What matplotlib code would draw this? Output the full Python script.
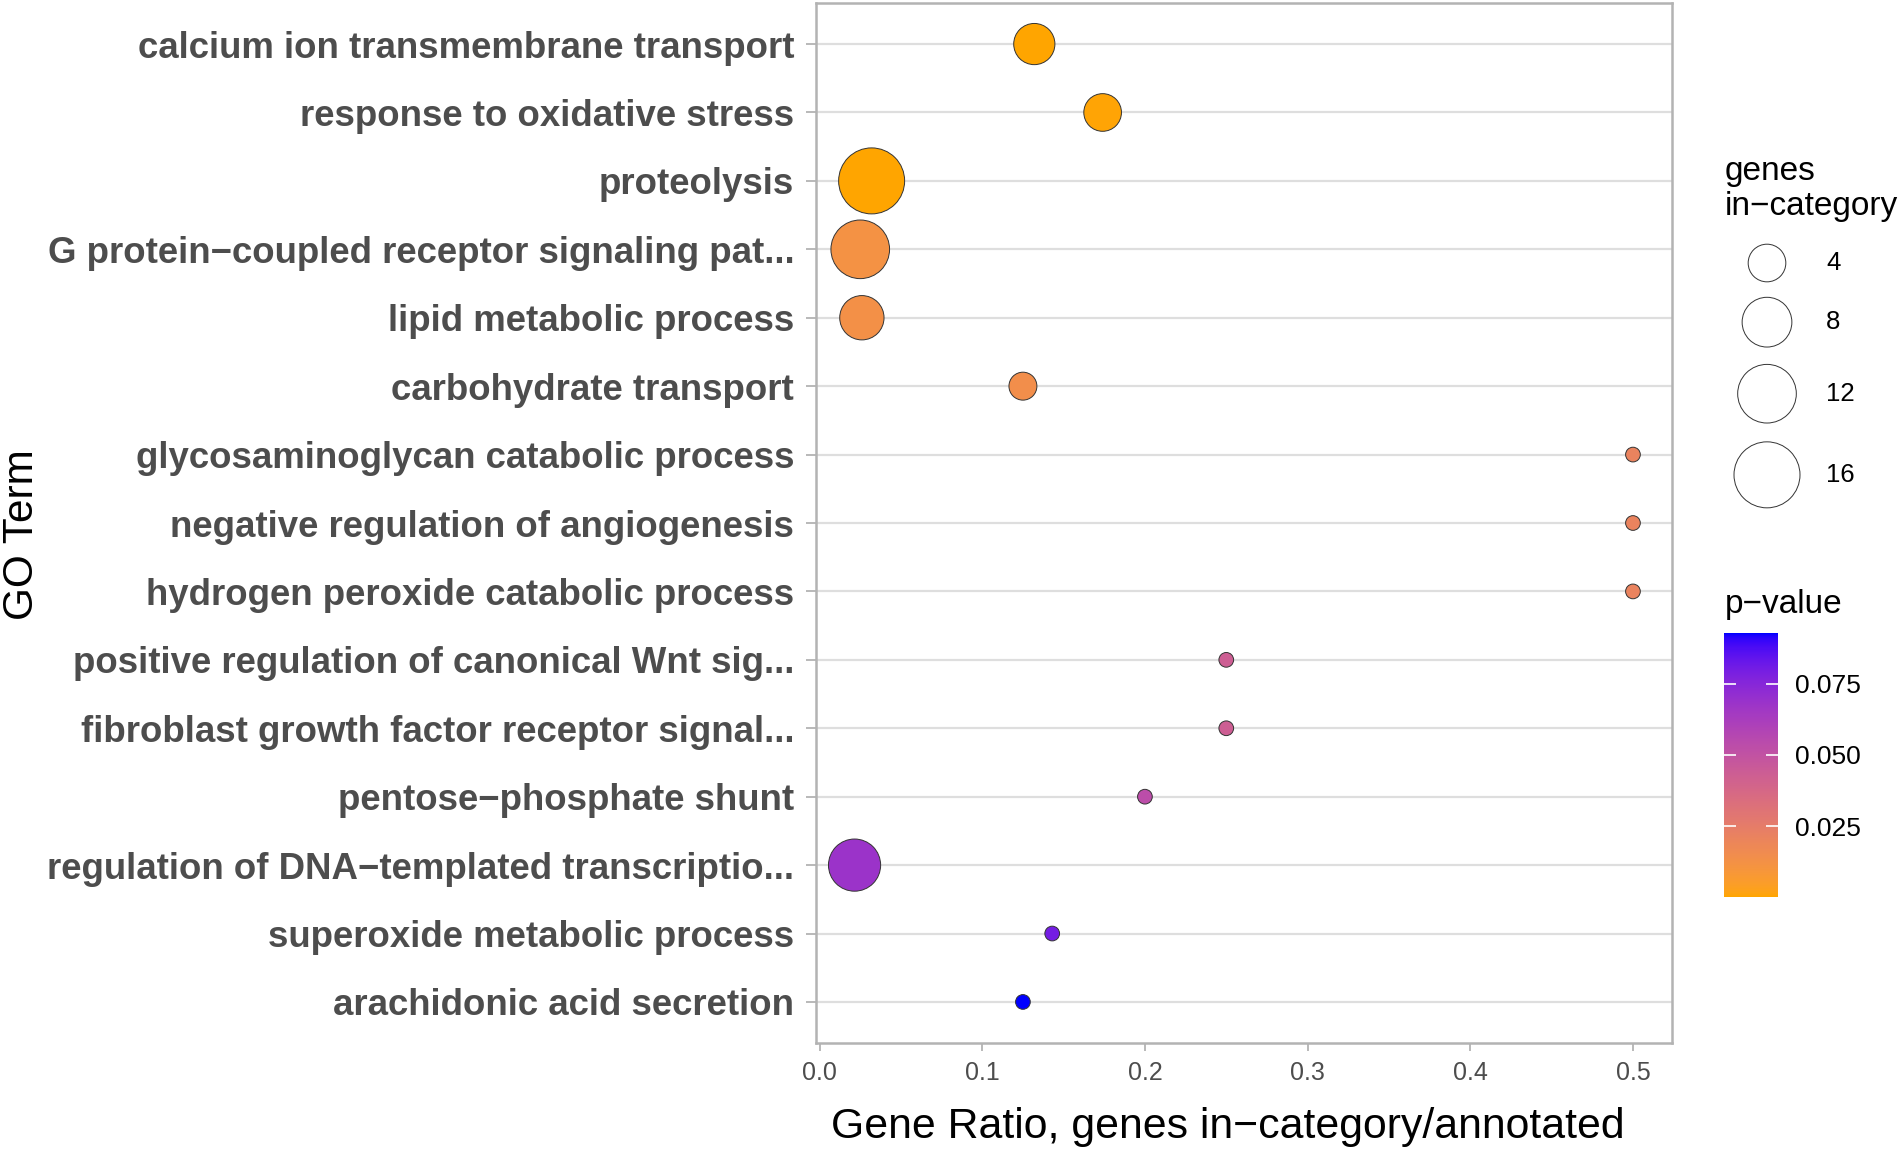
import numpy as np
import matplotlib.pyplot as plt
import matplotlib as mpl
from matplotlib.colors import ListedColormap, Normalize

plt.rcParams['font.family'] = ['Liberation Sans', 'DejaVu Sans']

# GO terms, top to bottom
terms = ["calcium ion transmembrane transport",
         "response to oxidative stress",
         "proteolysis",
         "G protein\u2212coupled receptor signaling pat...",
         "lipid metabolic process",
         "carbohydrate transport",
         "glycosaminoglycan catabolic process",
         "negative regulation of angiogenesis",
         "hydrogen peroxide catabolic process",
         "positive regulation of canonical Wnt sig...",
         "fibroblast growth factor receptor signal...",
         "pentose\u2212phosphate shunt",
         "regulation of DNA\u2212templated transcriptio...",
         "superoxide metabolic process",
         "arachidonic acid secretion"]
gene_ratio = [0.132, 0.174, 0.032, 0.025, 0.026, 0.125, 0.5, 0.5, 0.5,
              0.25, 0.25, 0.2, 0.0215, 0.143, 0.125]
genes_in_cat = [5, 4, 16, 12, 6, 2, 1, 1, 1, 1, 1, 1, 9, 1, 1]
p_value = [0.0005, 0.0006, 0.0002, 0.012, 0.013, 0.014, 0.021, 0.021, 0.021,
           0.043, 0.043, 0.053, 0.068, 0.080, 0.0927]
size_breaks = [4, 8, 12, 16]
p_ticks = [0.025, 0.050, 0.075]
x_ticks = [0.0, 0.1, 0.2, 0.3, 0.4, 0.5]

W, H = 1902, 1154

# --- colour scale: orange -> blue interpolated in Lab (like ggplot)
M = np.array([[0.4124, 0.3576, 0.1805], [0.2126, 0.7152, 0.0722], [0.0193, 0.1192, 0.9505]])
WP = np.array([0.95047, 1.0, 1.08883])

def to_lab(rgb):
    c = np.asarray(rgb, float)
    lin = np.where(c <= 0.04045, c / 12.92, ((c + 0.055) / 1.055) ** 2.4)
    t = (M @ lin) / WP
    f = np.where(t > (6/29) ** 3, np.cbrt(t), t / (3 * (6/29) ** 2) + 4/29)
    return np.array([116 * f[1] - 16, 500 * (f[0] - f[1]), 200 * (f[1] - f[2])])

def from_lab(lab):
    L, a, b = lab
    fy = (L + 16) / 116
    f = np.array([fy + a / 500, fy, fy - b / 200])
    t = np.where(f > 6/29, f ** 3, 3 * (6/29) ** 2 * (f - 4/29))
    lin = np.clip(np.linalg.inv(M) @ (t * WP), 0, 1)
    c = np.where(lin <= 0.0031308, 12.92 * lin, 1.055 * lin ** (1/2.4) - 0.055)
    return np.clip(c, 0, 1)

lab_lo = to_lab(mpl.colors.to_rgb('orange'))
lab_hi = to_lab(mpl.colors.to_rgb('blue'))
cols = [from_lab(lab_lo + (lab_hi - lab_lo) * t) for t in np.linspace(0, 1, 256)]
cmap = ListedColormap(cols)
norm = Normalize(vmin=min(p_value), vmax=max(p_value))

# --- size scale: diameter (px) grows with sqrt of rescaled count
nmin, nmax = min(genes_in_cat), max(genes_in_cat)
def diam(n):
    return 14.7 + 51.3 * np.sqrt((np.asarray(n, float) - nmin) / (nmax - nmin))
def area(n):
    return (diam(n) * 0.72) ** 2

fig = plt.figure(figsize=(W / 100, H / 100), dpi=100)
ax = fig.add_axes([816 / W, 1 - 1043 / H, (1672 - 816) / W, (1043 - 3) / H])

ypos = np.arange(len(terms))
ax.scatter(gene_ratio, ypos, s=area(genes_in_cat), c=p_value, cmap=cmap, norm=norm,
           edgecolors='#333333', linewidths=0.7, zorder=3)

ax.set_ylim(len(terms) - 0.4, -0.6)
ax.set_xlim(-0.0022, 0.524)
ax.set_yticks(ypos)
ax.set_yticklabels(terms, fontsize=26.4, fontweight='bold', color='#4D4D4D')
ax.set_xticks(x_ticks)
ax.set_xticklabels(['%.1f' % v for v in x_ticks], fontsize=18, color='#4D4D4D')
ax.tick_params(axis='y', length=7.2, width=1.3, color='#B3B3B3', pad=8.5)
ax.tick_params(axis='x', length=6, width=1.3, color='#B3B3B3', pad=7)
ax.yaxis.grid(True, color='#DEDEDE', linewidth=1.6)
ax.xaxis.grid(False)
ax.set_axisbelow(True)
for sp in ax.spines.values():
    sp.set_color('#B3B3B3')
    sp.set_linewidth(1.8)

fig.text(1228 / W, 1 - 1138 / H, 'Gene Ratio, genes in\u2212category/annotated',
         fontsize=30.8, ha='center', va='baseline')
fig.text(22 / W, 1 - 535 / H, 'GO Term', fontsize=30.5, rotation=90, ha='center', va='center')

# --- size legend
lax = fig.add_axes([0, 0, 1, 1], zorder=5)
lax.set_xlim(0, W)
lax.set_ylim(H, 0)
lax.axis('off')
lax.text(1725, 180, 'genes', fontsize=24, va='baseline')
lax.text(1725, 215, 'in\u2212category', fontsize=24, va='baseline')
y = 237.0
for n in size_breaks:
    kh = 1.18 * diam(n) + 7.6
    yc = y + kh / 2
    lax.scatter([1767], [yc], s=area(n), facecolors='none', edgecolors='#333333', linewidths=0.7)
    lax.text(1826, yc, str(n), fontsize=18.5, va='center')
    y += kh

# --- colour bar
lax.text(1725, 613, 'p\u2212value', fontsize=24, va='baseline')
cax = fig.add_axes([1724 / W, 1 - 897 / H, 54 / W, 264 / H])
cb = fig.colorbar(mpl.cm.ScalarMappable(norm=norm, cmap=cmap), cax=cax, ticks=p_ticks)
cb.outline.set_visible(False)
cb.ax.set_yticklabels(['%.3f' % v for v in p_ticks], fontsize=19)
cax.tick_params(direction='in', color='white', length=8.5, width=1.2, left=True, right=True, pad=12)

fig.savefig('out.png', dpi=100)
